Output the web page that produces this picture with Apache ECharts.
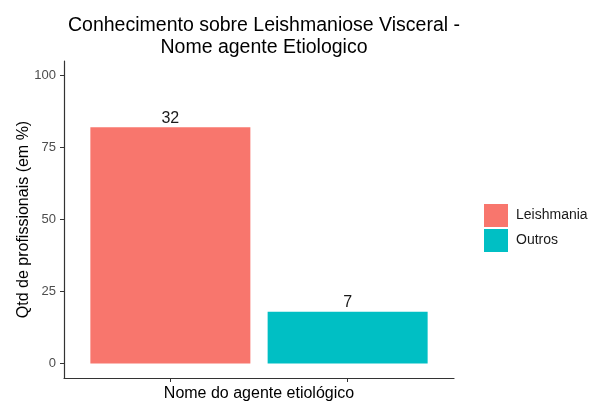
<!DOCTYPE html>
<html>
<head>
<meta charset="utf-8">
<script src="https://cdn.jsdelivr.net/npm/echarts@6/dist/echarts.min.js"></script>
<style>
  html, body { margin: 0; padding: 0; background: #fff; }
  #chart { width: 596px; height: 401px; }
</style>
</head>
<body>
<div id="chart"></div>
<script>
// dados
var categorias = ['Leishmania', 'Outros'];
var posicoes = [1, 2];
var percentuais = [82.05, 17.95];
var contagens = [32, 7];
var cores = ['#F8766D', '#00BFC4'];
var yTicks = [0, 25, 50, 75, 100];

var myChart = echarts.init(document.getElementById('chart'), null, { renderer: 'canvas' });

var series = categorias.map(function (c, i) {
    return {
        name: c,
        type: 'bar',
        barWidth: 160,
        barGap: '-100%',
        data: [[posicoes[i], percentuais[i]]],
        itemStyle: { color: cores[i] },
        label: {
            show: true,
            position: 'top',
            distance: 1,
            formatter: function () { return String(contagens[i]); },
            color: '#1a1a1a',
            fontSize: 16,
            fontFamily: 'Liberation Sans'
        },
        emphasis: { disabled: true }
    };
});

var option = {
    animation: false,
    textStyle: { fontFamily: 'Liberation Sans' },
    title: {
        text: 'Conhecimento sobre Leishmaniose Visceral -\nNome agente Etiologico',
        left: 259,
        top: 10,
        textAlign: 'center',
        textStyle: {
            fontSize: 19.5,
            fontWeight: 'normal',
            color: '#000',
            lineHeight: 22,
            fontFamily: 'Liberation Sans'
        }
    },
    grid: { left: 64, right: 142, top: 61, bottom: 23, containLabel: false, outerBoundsMode: 'none' },
    legend: {
        orient: 'vertical',
        left: 479,
        top: 199,
        itemWidth: 24,
        itemHeight: 23,
        itemGap: 2,
        icon: 'rect',
        data: categorias,
        textStyle: { fontSize: 14, color: '#1a1a1a', padding: [0, 0, 0, 3] },
        selectedMode: false
    },
    xAxis: {
        type: 'value',
        min: 0.4,
        max: 2.6,
        name: 'Nome do agente etiológico',
        nameLocation: 'middle',
        nameGap: 8,
        nameMoveOverlap: false,
        nameTextStyle: { fontSize: 16, color: '#000' },
        axisLine: { show: true, onZero: false, lineStyle: { color: '#333', width: 1.2 } },
        axisTick: { show: true, length: 4, customValues: posicoes, lineStyle: { color: '#333' } },
        axisLabel: { show: false },
        splitLine: { show: false }
    },
    yAxis: {
        type: 'value',
        min: -5,
        max: 105,
        name: 'Qtd de profissionais (em %)',
        nameLocation: 'middle',
        nameGap: 32,
        nameMoveOverlap: false,
        nameTextStyle: { fontSize: 16, color: '#000' },
        axisLine: { show: true, onZero: false, lineStyle: { color: '#333', width: 1.2 } },
        axisTick: { show: true, length: 4, customValues: yTicks, lineStyle: { color: '#333' } },
        axisLabel: { customValues: yTicks, fontSize: 13, color: '#4d4d4d', margin: 8 },
        splitLine: { show: false }
    },
    series: series
};

myChart.setOption(option);
</script>
</body>
</html>
